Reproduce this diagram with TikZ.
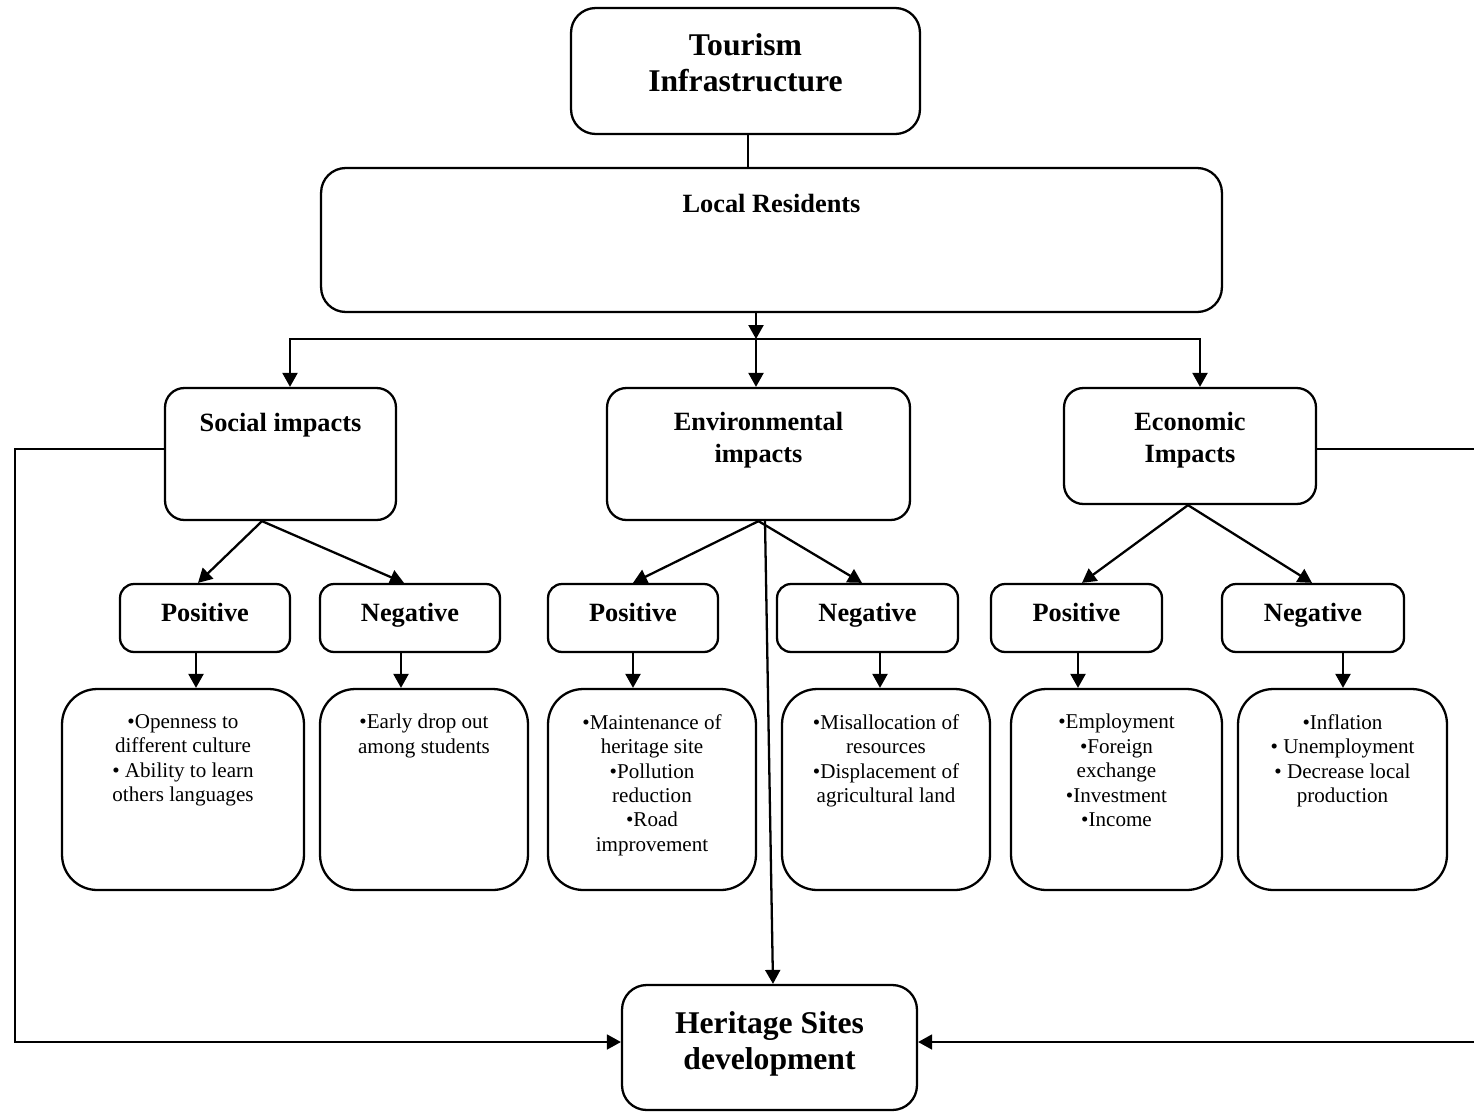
\documentclass[tikz,border=0pt]{standalone}
\usepackage{fontspec}
\setmainfont{Liberation Serif}
\usetikzlibrary{arrows.meta}

\tikzset{
  box/.style={draw, line width=1.3pt, rounded corners=#1, inner sep=0pt},
  box/.default=14pt,
  head/.style={font=\fontsize{15}{18}\selectfont\bfseries, align=center},
  sign/.style={head, text height=0.72em, text depth=0.36em},
  big/.style={font=\fontsize{18}{20.5}\selectfont\bfseries, align=center},
  items/.style={font=\fontsize{12}{13.9}\selectfont, align=center, anchor=north, inner sep=0pt},
  arr/.style={line width=1.3pt, -{Triangle[length=0.28cm,width=0.3cm]}},
  link/.style={line width=1pt, -{Triangle[length=0.28cm,width=0.3cm]}}
}

\begin{document}
\begin{tikzpicture}[x=0.02cm,y=-0.02cm]
  \useasboundingbox (0,0) rectangle (1474,1116);

  % top
  \node[box, minimum width=6.98cm, minimum height=2.52cm] (tour) at (745.5,71) {};
  \node[big] (tourt) at (745.5,63) {Tourism\\Infrastructure};
  \node[box, minimum width=18.02cm, minimum height=2.88cm] (res) at (771.5,240) {};
  \node[head] (rest) at (771.5,203) {Local Residents};
  \draw[line width=1.3pt] (tour.south -| 748,0) -- (res.north -| 748,0);

  % impacts
  \node[box=11pt, minimum width=4.62cm, minimum height=2.64cm] (soc) at (280.5,454) {};
  \node[head] (soct) at (280.5,425) {Social impacts};
  \node[box=11pt, minimum width=6.06cm, minimum height=2.64cm] (env) at (758.5,454) {};
  \node[head] (envt) at (758.5,440) {Environmental\\impacts};
  \node[box=11pt, minimum width=5.04cm, minimum height=2.32cm] (eco) at (1190,446) {};
  \node[head] (ecot) at (1190,440) {Economic\\Impacts};

  \coordinate (split) at (756,339);
  \draw[arr] (res.south -| split) -- (split);
  \draw[arr] (split) -| (soc.north -| 290,0);
  \draw[arr] (split) -- (split |- env.north);
  \draw[arr] (split) -| (eco.north -| 1200,0);

  % positive / negative
  \node[box=8pt, minimum width=3.4cm, minimum height=1.36cm, sign] (sp) at (205,618) {Positive};
  \node[box=8pt, minimum width=3.6cm, minimum height=1.36cm, sign] (sn) at (410,618) {Negative};
  \node[box=8pt, minimum width=3.4cm, minimum height=1.36cm, sign] (ep) at (633,618) {Positive};
  \node[box=8pt, minimum width=3.62cm, minimum height=1.36cm, sign] (en) at (867.5,618) {Negative};
  \node[box=8pt, minimum width=3.42cm, minimum height=1.36cm, sign] (cp) at (1076.5,618) {Positive};
  \node[box=8pt, minimum width=3.64cm, minimum height=1.36cm, sign] (cn) at (1313,618) {Negative};

  \draw[arr] (soc.south -| 262,0) -- (sp.north -| 198,0);
  \draw[arr] (soc.south -| 262,0) -- (sn.north -| 404,0);
  \draw[arr] (env.south) -- (ep.north);
  \draw[arr] (env.south) -- (en.north -| 862,0);
  \draw[arr] (eco.south -| 1188,0) -- (cp.north -| 1082,0);
  \draw[arr] (eco.south -| 1188,0) -- (cn.north -| 1312,0);

  % details
  \node[box=20pt, minimum width=4.84cm, minimum height=4.02cm] (sd1) at (183,789.5) {};
  \node[box=20pt, minimum width=4.16cm, minimum height=4.02cm] (sd2) at (424,789.5) {};
  \node[box=20pt, minimum width=4.16cm, minimum height=4.02cm] (ed1) at (652,789.5) {};
  \node[box=20pt, minimum width=4.16cm, minimum height=4.02cm] (ed2) at (886,789.5) {};
  \node[box=20pt, minimum width=4.22cm, minimum height=4.02cm] (cd1) at (1116.5,789.5) {};
  \node[box=20pt, minimum width=4.18cm, minimum height=4.02cm] (cd2) at (1342.5,789.5) {};

  \node[items] (sd1t) at (sd1.north |- 0,714) {•Openness to\\different culture\\• Ability to learn\\others languages};
  \node[items] (sd2t) at (sd2.north |- 0,714) {•Early drop out\\among students};
  \node[items] (ed1t) at (ed1.north |- 0,714) {•Maintenance of\\heritage site\\•Pollution\\reduction\\•Road\\improvement};
  \node[items] (ed2t) at (ed2.north |- 0,714) {•Misallocation of\\resources\\•Displacement of\\agricultural land};
  \node[items] (cd1t) at (cd1.north |- 0,714) {•Employment\\•Foreign\\exchange\\•Investment\\•Income};
  \node[items] (cd2t) at (cd2.north |- 0,714) {•Inflation\\• Unemployment\\• Decrease local\\production};

  \foreach \a/\b/\x in {sp/sd1/196, sn/sd2/401, ep/ed1/633, en/ed2/880, cp/cd1/1078, cn/cd2/1343}
    \draw[arr] (\a.south -| \x,0) -- (\b.north -| \x,0);

  % bottom
  \node[box, minimum width=5.9cm, minimum height=2.5cm] (heri) at (769.5,1047.5) {};
  \node[big] (herit) at (769.5,1044) {Heritage Sites\\development};

  \draw[arr] (env.south -| 765,0) -- (heri.north -| 773,0);
  \coordinate (lw) at (15,1042);
  \coordinate (rw) at (1480,1042);
  \draw[link] (soc.west |- 0,449) -| (lw) -- (lw -| heri.west);
  \draw[link] (eco.east |- 0,449) -| (rw) -- (rw -| heri.east);
\end{tikzpicture}
\end{document}
